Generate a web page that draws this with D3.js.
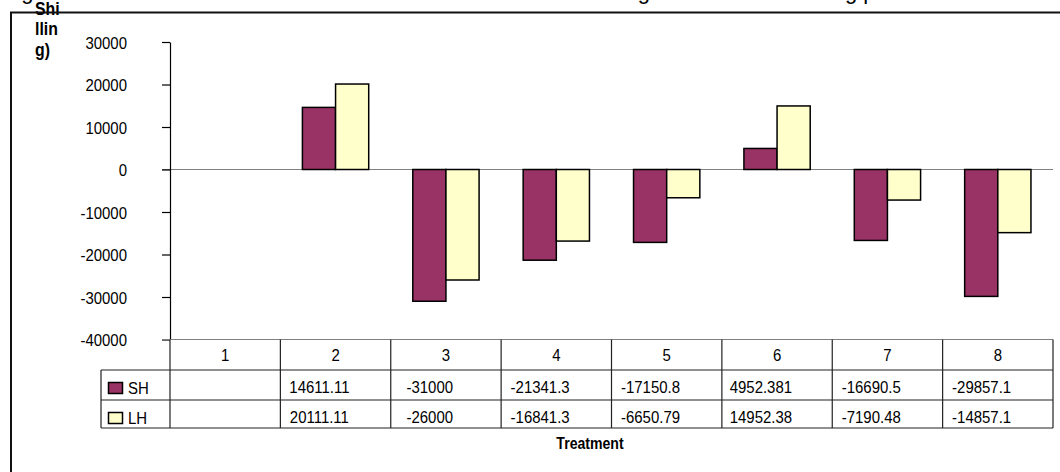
<!DOCTYPE html>
<html>
<head>
<meta charset="utf-8">
<script src="https://cdn.jsdelivr.net/npm/d3@7"></script>
<style>
  html, body { margin: 0; padding: 0; background: #fff; overflow: hidden; }
  svg { display: block; font-family: "Liberation Sans", Arial, sans-serif; }
</style>
</head>
<body>
<svg id="chart" width="1060" height="472"></svg>
<script>
// Treatments along the category axis
const categories = ["1", "2", "3", "4", "5", "6", "7", "8"];
// Series names shown in the data table legend
const seriesNames = ["SH", "LH"];
// Values per treatment (treatment 1 has no entry)
const shValues = [null, 14611.11, -31000, -21341.3, -17150.8, 4952.381, -16690.5, -29857.1];
const lhValues = [null, 20111.11, -26000, -16841.3, -6650.79, 14952.38, -7190.48, -14857.1];
// Table text exactly as printed in the data table
const shLabels = ["", "14611.11", "-31000", "-21341.3", "-17150.8", "4952.381", "-16690.5", "-29857.1"];
const lhLabels = ["", "20111.11", "-26000", "-16841.3", "-6650.79", "14952.38", "-7190.48", "-14857.1"];
// Value axis ticks
const yTicks = [30000, 20000, 10000, 0, -10000, -20000, -30000, -40000];
const seriesColors = ["#993366", "#FFFFCC"];

const svg = d3.select("#chart");
const SX = 0.88; // horizontal squeeze of the lettering

// Geometry of the plot and the table beneath it
const plotLeft = 170, plotRight = 1053, plotTop = 42, plotBottom = 339.5;
const tableLeft = 101, rowTops = [339.5, 370, 400, 428];

const y = d3.scaleLinear().domain([-40000, 30000]).range([plotBottom, plotTop]);
const x = d3.scaleBand().domain(categories).range([plotLeft, plotRight]).padding(0);
const barW = x.bandwidth() / 3.33;
const xs = d3.scaleBand().domain(seriesNames).range([0, 2 * barW]).padding(0);
const barOffset = (x.bandwidth() - 2 * barW) / 2;

function label(g, txt, px, py, opts = {}) {
  return g.append("text")
    .attr("transform", `translate(${px},${py}) scale(${SX},1)`)
    .attr("text-anchor", opts.anchor || "start")
    .attr("font-size", opts.size || 17)
    .attr("font-weight", opts.weight || "normal")
    .attr("fill", "#000")
    .text(txt);
}

// Title line, sitting above the top edge so only its descenders show
const title = svg.append("text")
  .attr("y", -0.8)
  .attr("font-size", 22)
  .attr("fill", "#000");
title.append("tspan").attr("x", 3).text("Figure 3: Net returns of the treatments and the");
title.append("tspan").attr("x", 590).text("change in");
title.append("tspan").attr("x", 705).text("return");
title.append("tspan").attr("x", 796).text("during period");

// Value axis title, wrapped into a narrow column
const yTitle = svg.append("g");
["Shi", "llin", "g)"].forEach((t, i) => label(yTitle, t, 35, 14.5 + i * 20.5, { weight: "bold", size: 18 }));

// Outer chart frame
svg.append("line").attr("x1", 11).attr("x2", 11).attr("y1", 12).attr("y2", 472)
  .attr("stroke", "#111").attr("stroke-width", 2);
svg.append("line").attr("x1", 10).attr("x2", 1060).attr("y1", 12.5).attr("y2", 12.5)
  .attr("stroke", "#111").attr("stroke-width", 2);

// Zero line
svg.append("line")
  .attr("x1", 162).attr("x2", plotRight).attr("y1", y(0)).attr("y2", y(0))
  .attr("stroke", "#808080").attr("stroke-width", 1.2);

// Bars
const seriesData = [shValues, lhValues];
seriesNames.forEach((s, si) => {
  svg.append("g").selectAll("rect")
    .data(categories.map((c, i) => ({ c, v: seriesData[si][i] })).filter(d => d.v !== null))
    .join("rect")
    .attr("x", d => x(d.c) + barOffset + xs(s))
    .attr("width", xs.bandwidth())
    .attr("y", d => y(Math.max(0, d.v)))
    .attr("height", d => Math.abs(y(d.v) - y(0)))
    .attr("fill", seriesColors[si])
    .attr("stroke", "#000")
    .attr("stroke-width", 1.5);
});

// Value axis
const yAxis = svg.append("g")
  .attr("transform", `translate(${plotLeft},0)`)
  .call(d3.axisLeft(y).tickValues(yTicks).tickSize(8).tickSizeOuter(0).tickFormat(d => String(d)));
yAxis.select(".domain").attr("stroke", "#000").attr("stroke-width", 1.2);
yAxis.selectAll(".tick line").attr("stroke", "#000").attr("stroke-width", 1.2);
yAxis.selectAll(".tick text")
  .attr("x", -43 / SX)
  .attr("dy", "0.36em")
  .attr("transform", `scale(${SX},1)`)
  .attr("font-size", 17)
  .attr("font-family", "Liberation Sans, Arial, sans-serif")
  .attr("fill", "#000");

// Data table
const table = svg.append("g");
const tStroke = "#222";
// header top (category axis baseline)
table.append("line").attr("x1", 162).attr("x2", plotRight).attr("y1", rowTops[0]).attr("y2", rowTops[0])
  .attr("stroke", "#808080").attr("stroke-width", 1.2);
[rowTops[1], rowTops[2], rowTops[3]].forEach(ty => {
  table.append("line").attr("x1", tableLeft).attr("x2", plotRight).attr("y1", ty).attr("y2", ty)
    .attr("stroke", tStroke).attr("stroke-width", 1.2);
});
table.append("line").attr("x1", tableLeft).attr("x2", tableLeft).attr("y1", rowTops[1]).attr("y2", rowTops[3])
  .attr("stroke", tStroke).attr("stroke-width", 1.2);
const edges = categories.map(c => x(c)).concat([plotRight]);
table.selectAll(".vline").data(edges).join("line")
  .attr("x1", d => d).attr("x2", d => d)
  .attr("y1", rowTops[0]).attr("y2", rowTops[3])
  .attr("stroke", tStroke).attr("stroke-width", 1.2);

// Category header labels
categories.forEach(c => label(table, c, x(c) + x.bandwidth() / 2, 361, { anchor: "middle" }));

// Legend keys and series names
const rowLabels = [shLabels, lhLabels];
seriesNames.forEach((s, si) => {
  const top = rowTops[si + 1];
  table.append("rect")
    .attr("x", 108.5).attr("y", top + 12.5)
    .attr("width", 14).attr("height", 11)
    .attr("fill", seriesColors[si]).attr("stroke", "#000").attr("stroke-width", 1.5);
  label(table, s, 128, top + 23.5);
  categories.forEach((c, i) => {
    if (rowLabels[si][i] !== "") label(table, rowLabels[si][i], x(c) + 39, top + 22.5, { anchor: "middle" });
  });
});

// Category axis title
label(svg, "Treatment", 590, 449, { anchor: "middle", weight: "bold", size: 16 });
</script>
</body>
</html>
